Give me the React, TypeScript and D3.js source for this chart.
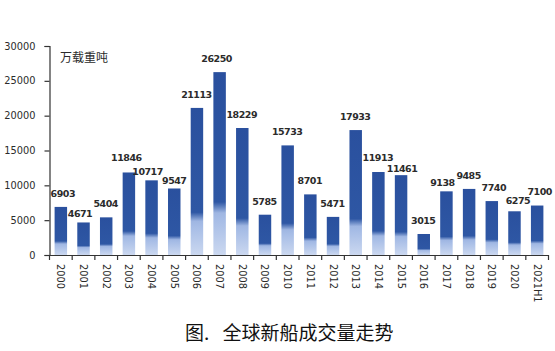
import { useRef, useEffect } from 'react';
import * as d3 from 'd3';

const years = [
  '2000', '2001', '2002', '2003', '2004', '2005', '2006', '2007', '2008', '2009', '2010',
  '2011', '2012', '2013', '2014', '2015', '2016', '2017', '2018', '2019', '2020', '2021H1',
];
const volumes = [
  6903, 4671, 5404, 11846, 10717, 9547, 21113, 26250, 18229, 5785, 15733,
  8701, 5471, 17933, 11913, 11461, 3015, 9138, 9485, 7740, 6275, 7100,
];
const yTicks = [0, 5000, 10000, 15000, 20000, 25000, 30000];
const unitLabel = '万载重吨';
const titlePrefix = '图.';
const titleText = '全球新船成交量走势';

// hand-placed data labels in the source: small nudges [dx, dy] off the default spot
const labelNudge: Record<string, [number, number]> = {
  '2000': [2.5, 0],
  '2001': [-3, 4.5],
  '2003': [-2, -1],
  '2004': [-3.5, 5],
  '2005': [0.5, 5.5],
  '2007': [-2.5, 0],
  '2014': [0, -1],
  '2015': [1.5, 7],
  '2017': [-3.5, 4.5],
  '2019': [2.5, 0],
  '2020': [4, 3],
  '2021H1': [3, -1],
};

export default function App() {
  const svgRef = useRef<SVGSVGElement>(null);

  useEffect(() => {
    if (!svgRef.current) return;
    const svg = d3.select(svgRef.current);
    svg.selectAll('*').remove();

    const width = 555;
    const height = 351;
    const left = 49.5;
    const right = 548.5;
    const bottom = 255;
    const top = 46;
    const axisColor = '#333';
    const textColor = '#2b2b2b';
    const font = '"DejaVu Sans", Verdana, sans-serif';

    svg.attr('width', width).attr('height', height);

    // bar gradient: pale bottom, dark blue top
    const grad = svg
      .append('defs')
      .append('linearGradient')
      .attr('id', 'barFill')
      .attr('x1', 0)
      .attr('y1', 1)
      .attr('x2', 0)
      .attr('y2', 0);
    grad.append('stop').attr('offset', 0).attr('stop-color', '#cbd8f0');
    grad.append('stop').attr('offset', 0.19).attr('stop-color', '#a7bde6');
    grad.append('stop').attr('offset', 0.23).attr('stop-color', '#9fb6e2');
    grad.append('stop').attr('offset', 0.29).attr('stop-color', '#2e57a4');
    grad.append('stop').attr('offset', 1).attr('stop-color', '#2a509e');

    const x = d3
      .scaleBand()
      .domain(years)
      .range([left, right])
      .paddingInner(0.45)
      .paddingOuter(0.225);

    const y = d3.scaleLinear().domain([0, 30000]).range([bottom, top]);

    // bars
    svg
      .append('g')
      .selectAll('rect')
      .data(years)
      .enter()
      .append('rect')
      .attr('x', (d) => x(d)!)
      .attr('y', (_, i) => y(volumes[i]))
      .attr('width', x.bandwidth())
      .attr('height', (_, i) => bottom - y(volumes[i]))
      .attr('fill', 'url(#barFill)');

    // Y axis
    const yAxis = svg
      .append('g')
      .attr('transform', `translate(${left},0)`)
      .call(d3.axisLeft(y).tickValues(yTicks).tickSize(5).tickPadding(9).tickFormat(d3.format('d')));
    yAxis.select('.domain').attr('stroke', axisColor).attr('stroke-width', 1.2);
    yAxis.selectAll('line').attr('stroke', axisColor).attr('stroke-width', 1.2);
    yAxis
      .selectAll('text')
      .attr('fill', textColor)
      .attr('font-family', font)
      .attr('font-size', '9.8px');

    // X axis line + boundary ticks
    const step = x.step();
    const gx = svg.append('g');
    gx.append('line')
      .attr('x1', left)
      .attr('x2', right)
      .attr('y1', bottom + 0.5)
      .attr('y2', bottom + 0.5)
      .attr('stroke', axisColor)
      .attr('stroke-width', 1.2);
    const bounds = years.map((d) => x(d)! + x.bandwidth() / 2 - step / 2).concat([right]);
    gx.selectAll('.xtick')
      .data(bounds)
      .enter()
      .append('line')
      .attr('x1', (d) => d)
      .attr('x2', (d) => d)
      .attr('y1', bottom)
      .attr('y2', bottom + 5)
      .attr('stroke', axisColor)
      .attr('stroke-width', 1.2);

    // X labels, rotated
    gx.selectAll('.xlabel')
      .data(years)
      .enter()
      .append('text')
      .attr('transform', (d) => `translate(${x(d)! + x.bandwidth() / 2},${bottom + 9}) rotate(90)`)
      .attr('dominant-baseline', 'central')
      .attr('fill', textColor)
      .attr('font-family', font)
      .attr('font-size', '9.8px')
      .text((d) => d);

    // value labels
    svg
      .append('g')
      .selectAll('text')
      .data(years)
      .enter()
      .append('text')
      .attr('x', (d) => x(d)! + x.bandwidth() / 2 - 0.5 + (labelNudge[d]?.[0] ?? 0))
      .attr('y', (d, i) => y(volumes[i]) - 10 + (labelNudge[d]?.[1] ?? 0))
      .attr('text-anchor', 'middle')
      .attr('fill', textColor)
      .attr('font-family', font)
      .attr('font-weight', 'bold')
      .attr('letter-spacing', '-0.5px')
      .attr('font-size', '9.5px')
      .text((_, i) => volumes[i]);

    // unit
    svg
      .append('text')
      .attr('x', 60)
      .attr('y', 62)
      .attr('fill', textColor)
      .attr('font-family', '"Noto Sans CJK SC", sans-serif')
      .attr('font-size', '12px')
      .text(unitLabel);

    // title
    const cjk = '"Noto Sans CJK SC", sans-serif';
    svg
      .append('text')
      .attr('x', 185)
      .attr('y', 340)
      .attr('fill', '#111')
      .attr('font-family', cjk)
      .attr('font-size', '19px')
      .text(titlePrefix);
    svg
      .append('text')
      .attr('x', 222.5)
      .attr('y', 340)
      .attr('fill', '#111')
      .attr('font-family', cjk)
      .attr('font-size', '19px')
      .text(titleText);
  }, []);

  return <svg ref={svgRef} style={{ position: 'absolute', left: 0, top: 0, background: '#fff' }} />;
}
